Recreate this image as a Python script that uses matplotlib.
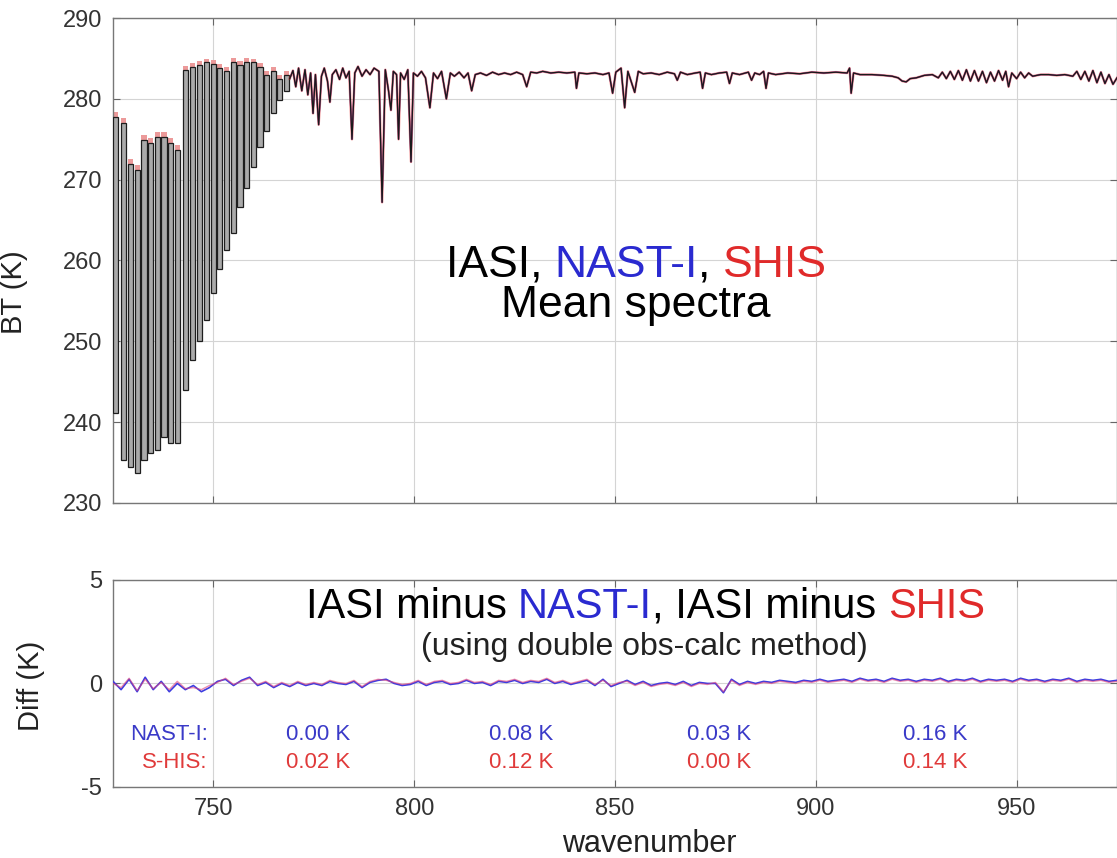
import numpy as np
import matplotlib
matplotlib.use("Agg")
import matplotlib.pyplot as plt
from matplotlib.offsetbox import TextArea, HPacker, AnnotationBbox

plt.rcParams['font.family'] = ['Liberation Sans', 'DejaVu Sans']
plt.rcParams['axes.unicode_minus'] = False

BLUE = '#2a2ad0'
RED = '#e02a2a'

# ---------------- top panel: mean spectra ----------------
# CO2 band lines (cm-1), top and bottom of each line (K)
co2_wn = [725.7, 727.6, 729.4, 731.1, 732.7, 734.4, 736.0, 737.7, 739.3, 741.0,
          743.1, 744.7, 746.6, 748.3, 750.0, 751.6, 753.3, 754.9, 756.6, 758.3,
          759.9, 761.6, 763.3, 764.9, 766.5, 768.2]
co2_top_iasi = [277.8, 277.0, 272.0, 271.2, 274.9, 274.5, 275.3, 275.3, 274.5, 273.7,
                283.6, 283.9, 284.2, 284.5, 284.3, 283.8, 283.4, 284.5, 284.2, 284.5,
                284.5, 284.0, 283.0, 283.5, 282.4, 283.0]
co2_bot_iasi = [241.1, 235.3, 234.4, 233.7, 235.3, 236.2, 236.5, 238.1, 237.4, 237.4,
                244.0, 247.7, 250.0, 252.6, 256.0, 259.0, 261.3, 263.4, 266.6, 269.0,
                271.6, 274.0, 276.0, 278.2, 279.9, 281.0]
co2_top_shis = [278.4, 277.6, 272.6, 271.8, 275.5, 275.1, 275.9, 275.9, 275.1, 274.3,
                284.1, 284.4, 284.7, 284.9, 284.8, 284.3, 283.9, 285.0, 284.7, 285.0,
                284.9, 284.4, 283.5, 283.9, 282.9, 283.4]

# window region (cm-1, K)
wn_win = [769.0, 769.8, 770.5, 771.2, 772.0, 772.8, 773.5, 774.2, 774.8, 775.4,
          776.2, 776.9, 777.6, 778.4, 779.0, 779.6, 780.5, 781.4, 782.2, 783.0,
          783.8, 784.5, 785.2, 786.0, 787.0, 788.0, 789.0, 790.0, 791.2, 792.0,
          792.8, 793.6, 794.2, 794.8, 795.6, 796.1, 796.6, 797.5, 798.4, 799.2,
          799.8, 800.8, 801.8, 802.8, 803.9, 804.8, 805.8, 806.8, 808.0, 809.0,
          810.0, 811.2, 812.4, 813.4, 814.3, 815.2, 816.5, 818.0, 819.5, 821.0,
          822.5, 824.0, 825.5, 827.0, 828.0, 829.0, 830.5, 832.0, 834.0, 836.0,
          838.0, 840.0, 840.4, 841.0, 843.0, 845.0, 847.0, 848.5, 849.4, 850.2,
          851.5, 852.4, 853.2, 854.9, 855.8, 857.0, 859.0, 861.0, 863.0, 864.8,
          865.5, 866.3, 868.0, 870.0, 871.2, 871.8, 872.5, 874.0, 876.0, 877.8,
          878.5, 879.2, 881.0, 883.2, 884.0, 884.8, 886.0, 887.0, 887.6, 888.2,
          890.0, 893.0, 896.0, 899.0, 902.0, 905.0, 907.8, 908.4, 908.8, 909.4,
          911.0, 914.0, 917.0, 919.0, 920.5, 921.5, 922.5, 923.5, 925.0, 927.0,
          929.0, 930.5, 931.5, 932.5, 933.5, 934.5, 935.5, 936.5, 937.5, 938.5,
          939.5, 940.5, 941.5, 942.5, 943.5, 944.5, 945.5, 946.5, 947.3, 948.0,
          948.8, 950.0, 951.0, 952.0, 953.0, 954.0, 956.0, 958.0, 960.0, 962.0,
          964.0, 965.0, 966.0, 967.0, 968.0, 969.0, 970.0, 971.0, 972.0, 973.0,
          974.0, 975.0]
bt_win = [282.5, 283.5, 281.5, 283.8, 281.0, 283.6, 280.5, 283.2, 278.2, 283.0,
          276.8, 282.8, 283.8, 282.2, 279.6, 283.0, 283.6, 282.4, 283.8, 282.6,
          283.4, 275.0, 283.2, 284.0, 282.8, 283.6, 283.0, 283.8, 283.4, 267.2,
          283.6, 281.0, 278.6, 283.4, 283.0, 275.0, 283.2, 282.4, 283.6, 272.2,
          283.2, 282.8, 283.4, 282.6, 278.9, 283.2, 282.5, 283.4, 280.0, 283.2,
          282.8, 283.3, 282.6, 283.2, 281.0, 283.0, 283.2, 282.9, 283.3, 283.0,
          283.2, 283.0, 283.3, 283.0, 281.5, 283.3, 283.2, 283.4, 283.2, 283.3,
          283.2, 283.3, 281.3, 283.2, 283.1, 283.2, 283.0, 283.2, 280.7, 283.3,
          283.8, 278.9, 283.4, 280.8, 283.4, 283.1, 283.2, 283.0, 283.3, 283.1,
          282.3, 283.3, 283.0, 283.2, 283.3, 281.3, 283.2, 283.0, 283.2, 283.3,
          281.9, 283.2, 283.0, 283.3, 282.3, 283.2, 283.0, 283.4, 281.3, 283.2,
          283.0, 283.2, 283.1, 283.3, 283.2, 283.3, 283.2, 283.8, 280.7, 283.2,
          283.0, 283.0, 282.9, 282.8, 282.6, 282.2, 282.1, 282.5, 282.6, 282.9,
          283.0, 282.6, 283.3, 282.5, 283.4, 282.4, 283.5, 282.3, 283.6, 282.2,
          283.5, 282.2, 283.4, 282.0, 283.3, 282.2, 283.5, 282.3, 283.4, 281.5,
          283.2, 282.5, 283.3, 282.6, 283.2, 282.8, 283.0, 283.0, 282.9, 283.0,
          282.8, 283.4, 282.4, 283.4, 282.2, 283.5, 282.0, 283.3, 281.9, 283.0,
          281.8, 282.6]

# ---------------- bottom panel: differences ----------------
wn_diff = np.arange(725, 976, 2)
diff_nast = [0.10, -0.30, 0.20, -0.40, 0.30, -0.30, 0.10, -0.40, 0.00, -0.30,
             -0.10, -0.40, -0.20, 0.10, 0.20, -0.10, 0.15, 0.30, -0.10, 0.05,
             -0.20, 0.00, -0.15, 0.05, -0.10, 0.00, -0.10, 0.10, 0.00, -0.05,
             0.10, -0.20, 0.05, 0.15, 0.20, 0.00, -0.10, -0.05, 0.10, -0.10,
             0.05, 0.10, -0.05, 0.00, 0.15, 0.00, 0.05, -0.10, 0.10, 0.05,
             0.15, 0.00, 0.10, 0.05, 0.20, 0.00, 0.10, -0.05, 0.05, 0.15,
             -0.10, 0.20, -0.15, 0.00, 0.15, -0.05, 0.10, -0.10, 0.00, 0.05,
             -0.05, 0.10, -0.10, 0.05, 0.00, 0.00, -0.45, 0.20, -0.05, 0.10,
             0.00, 0.10, 0.05, 0.15, 0.10, 0.05, 0.15, 0.10, 0.20, 0.10,
             0.15, 0.20, 0.10, 0.25, 0.15, 0.20, 0.10, 0.25, 0.15, 0.20,
             0.10, 0.20, 0.15, 0.25, 0.10, 0.20, 0.15, 0.25, 0.10, 0.20,
             0.15, 0.20, 0.10, 0.25, 0.15, 0.20, 0.10, 0.20, 0.15, 0.25,
             0.10, 0.20, 0.15, 0.20, 0.10, 0.15]
diff_shis = [0.00, -0.20, 0.25, -0.35, 0.20, -0.25, 0.05, -0.30, 0.10, -0.25,
             -0.20, -0.30, -0.10, 0.05, 0.25, -0.05, 0.10, 0.25, -0.05, 0.10,
             -0.15, 0.05, -0.10, 0.10, -0.05, 0.05, -0.05, 0.15, 0.05, 0.00,
             0.15, -0.15, 0.10, 0.20, 0.15, 0.05, -0.05, 0.00, 0.15, -0.05,
             0.10, 0.15, 0.00, 0.05, 0.20, 0.05, 0.10, -0.05, 0.15, 0.10,
             0.20, 0.05, 0.15, 0.10, 0.25, 0.05, 0.15, 0.00, 0.10, 0.20,
             -0.05, 0.15, -0.10, 0.05, 0.10, -0.10, 0.05, -0.15, -0.05, 0.00,
             -0.10, 0.05, -0.15, 0.00, -0.05, 0.05, -0.40, 0.15, -0.10, 0.05,
             -0.05, 0.05, 0.00, 0.10, 0.05, 0.00, 0.10, 0.05, 0.15, 0.05,
             0.10, 0.15, 0.05, 0.20, 0.10, 0.15, 0.05, 0.20, 0.10, 0.15,
             0.05, 0.15, 0.10, 0.20, 0.05, 0.15, 0.10, 0.20, 0.05, 0.15,
             0.10, 0.15, 0.05, 0.20, 0.10, 0.15, 0.05, 0.15, 0.10, 0.20,
             0.05, 0.15, 0.10, 0.15, 0.05, 0.10]

# band means written on the diff panel
mean_wn = [776.0, 826.6, 875.8, 929.7]
mean_nast = ['0.00 K', '0.08 K', '0.03 K', '0.16 K']
mean_shis = ['0.02 K', '0.12 K', '0.00 K', '0.14 K']


def colored_line(ax, parts, x, y, size):
    # several coloured pieces of text packed on one line, centred at (x, y)
    boxes = [TextArea(t, textprops=dict(color=c, fontsize=size)) for t, c in parts]
    pack = HPacker(children=boxes, align='baseline', pad=0, sep=0)
    ab = AnnotationBbox(pack, (x, y), xycoords='axes fraction', frameon=False,
                        box_alignment=(0.5, 0.5), pad=0)
    ax.add_artist(ab)


def style_axes(ax):
    ax.grid(True, color='#d4d4d4', lw=0.8)
    ax.set_axisbelow(True)
    for s in ax.spines.values():
        s.set_color('#777777')
        s.set_linewidth(1.0)
    ax.tick_params(direction='in', top=True, right=True, length=5,
                   color='#666666', labelsize=17, labelcolor='#333333', pad=8)


fig = plt.figure(figsize=(11.17, 8.58), dpi=100)
ax1 = fig.add_axes([0.1012, 0.4138, 0.8988, 0.5652])
ax2 = fig.add_axes([0.1012, 0.0828, 0.8988, 0.2413])

# ---- spectra ----
co2_h_iasi = np.array(co2_top_iasi) - np.array(co2_bot_iasi)
co2_h_shis = np.array(co2_top_shis) - np.array(co2_bot_iasi)
ax1.bar(co2_wn, co2_h_shis, bottom=co2_bot_iasi, width=1.3, color='#ec9a9a',
        lw=0, zorder=2)
ax1.bar(co2_wn, co2_h_iasi, bottom=co2_bot_iasi, width=1.3, color='#aaaaaa',
        edgecolor='#1e1e1e', lw=0.9, zorder=3)
ax1.plot(wn_win, bt_win, color=BLUE, lw=1.0, zorder=2)
ax1.plot(wn_win, bt_win, color=RED, lw=1.8, alpha=0.5, zorder=3)
ax1.plot(wn_win, bt_win, color='#1a1a1a', lw=0.9, zorder=4)

ax1.set_xlim(725, 975)
ax1.set_ylim(230, 290)
ax1.set_xticks([750, 800, 850, 900, 950])
ax1.set_yticks([230, 240, 250, 260, 270, 280, 290])
style_axes(ax1)
ax1.tick_params(labelbottom=False)
ax1.set_ylabel('BT (K)', fontsize=21, color='#222222')
ax1.yaxis.set_label_coords(-0.085, 0.435)

colored_line(ax1, [('IASI, ', 'black'), ('NAST-I', BLUE), (', ', 'black'), ('SHIS', RED)],
             0.521, 0.49, 32)
ax1.text(0.521, 0.408, 'Mean spectra', transform=ax1.transAxes, fontsize=32,
         ha='center', va='center', color='black')

# ---- differences ----
ax2.plot(wn_diff, diff_nast, color='#3c3ce0', lw=1.2, zorder=3)
ax2.plot(wn_diff, diff_shis, color='#e0407a', lw=1.0, alpha=0.6, zorder=4)

ax2.set_xlim(725, 975)
ax2.set_ylim(-5, 5)
ax2.set_xticks([750, 800, 850, 900, 950])
ax2.set_yticks([-5, 0, 5])
style_axes(ax2)
ax2.set_ylabel('Diff (K)', fontsize=21, color='#222222')
ax2.yaxis.set_label_coords(-0.068, 0.49)
ax2.set_xlabel('wavenumber', fontsize=22, color='#222222')
ax2.xaxis.set_label_coords(0.534, -0.205)

colored_line(ax2, [('IASI minus ', 'black'), ('NAST-I', BLUE), (', IASI minus ', 'black'),
                   ('SHIS', RED)], 0.530, 0.870, 30)
ax2.text(0.529, 0.676, '(using double obs-calc method)', transform=ax2.transAxes,
         fontsize=23, ha='center', va='center', color='#222222')

ax2.text(748.6, -2.45, 'NAST-I:', fontsize=16, color='#3a3ac8', ha='right', va='center')
ax2.text(748.4, -3.8, 'S-HIS:', fontsize=16, color='#e03a3a', ha='right', va='center')
for x, a, b in zip(mean_wn, mean_nast, mean_shis):
    ax2.text(x, -2.45, a, fontsize=16, color='#3a3ac8', ha='center', va='center')
    ax2.text(x, -3.8, b, fontsize=16, color='#e03a3a', ha='center', va='center')

fig.savefig('out.png', dpi=100)
